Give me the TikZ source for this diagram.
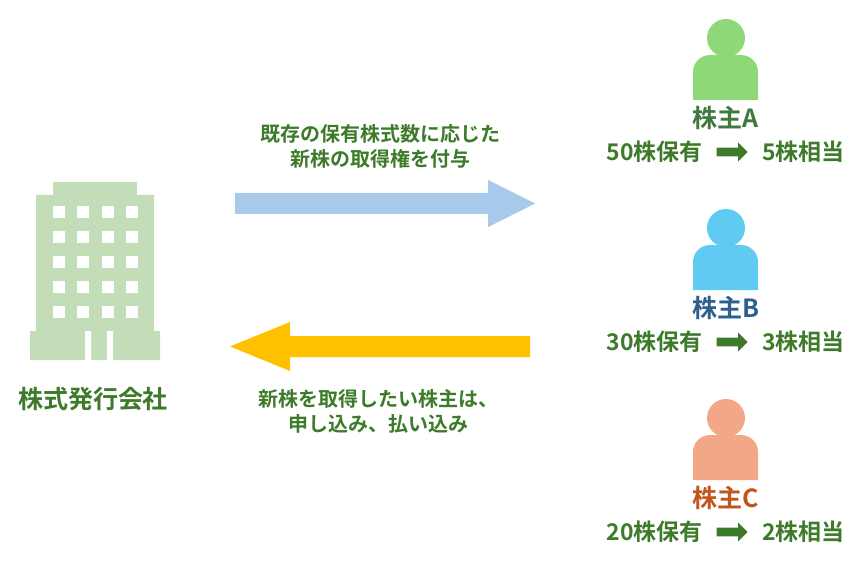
\documentclass[tikz,border=0pt]{standalone}
\usepackage{fontspec}
\setmainfont{Noto Sans CJK JP}[BoldFont={* Bold}]
\usetikzlibrary{shapes.arrows}
\definecolor{bld}{HTML}{C3DDB8}
\definecolor{tgreen}{HTML}{3D7A2A}
\definecolor{pa}{HTML}{8FD878}
\definecolor{pb}{HTML}{5FCBF2}
\definecolor{pc}{HTML}{F2A886}
\definecolor{ta}{HTML}{3E7A40}
\definecolor{tb}{HTML}{2C5F8E}
\definecolor{tc}{HTML}{C0561E}
\definecolor{ablue}{HTML}{A7C9EA}
\definecolor{ayel}{HTML}{FFC000}
\begin{document}
\begin{tikzpicture}[x=1pt,y=-1pt,
  lbl/.style={font=\bfseries\fontsize{25}{28}\selectfont,inner sep=0pt},
  txt/.style={font=\bfseries\fontsize{23}{26}\selectfont,text=tgreen,inner sep=0pt},
  captxt/.style={font=\bfseries\fontsize{20}{25}\selectfont,text=tgreen,align=center}]
\useasboundingbox (0,0) rectangle (865,572);
% building
\fill[bld] (53,182) rectangle (137,196) (36,195) rectangle (154,332) (30,331) rectangle (160,360);
\fill[white] (85,331) rectangle (91,361) (107,331) rectangle (113,361);
\foreach \x in {53,77,102,126}\foreach \y in {206,231,256,281,306}
  \fill[white] (\x,\y) rectangle ++(12,12);
\node[txt,font=\bfseries\fontsize{25}{28}\selectfont] (co) at (93,399) {株式発行会社};
% persons
\foreach \n/\c/\t/\yy/\lab/\a/\b in {A/pa/ta/0/株主A/50/5, B/pb/tb/190/株主B/30/3, C/pc/tc/380/株主C/20/2}{
  \fill[\c] (726,38+\yy) circle (19);
  \fill[\c] (693,100+\yy) [rounded corners=17pt]-- (693,55+\yy) -- (758,55+\yy) [sharp corners]-- (758,100+\yy) -- cycle;
  \node[lbl,text=\t] (l\n) at (726,118+\yy) {\lab};
  \node[txt,anchor=east] (h\n) at (703,152+\yy) {\a 株保有};
  \node[txt,anchor=west] (s\n) at (762,152+\yy) {\b 株相当};
  \node[single arrow,fill=tgreen,minimum height=31pt,minimum width=19pt,single arrow head extend=2pt,inner sep=1.5pt] (ar\n) at (730,152+\yy) {};
}
% arrows
\fill[ablue] (235,193) -- (488,193) -- (488,180) -- (535,203.5) -- (488,227) -- (488,214) -- (235,214) -- cycle;
\fill[ayel] (530,336) -- (290,336) -- (290,322) -- (230,346.5) -- (290,371) -- (290,357) -- (530,357) -- cycle;
\node[captxt] (t1) at (380,146) {既存の保有株式数に応じた\\新株の取得権を付与};
\node[captxt] (t2) at (378,411) {新株を取得したい株主は、\\申し込み、払い込み};
\end{tikzpicture}
\end{document}
